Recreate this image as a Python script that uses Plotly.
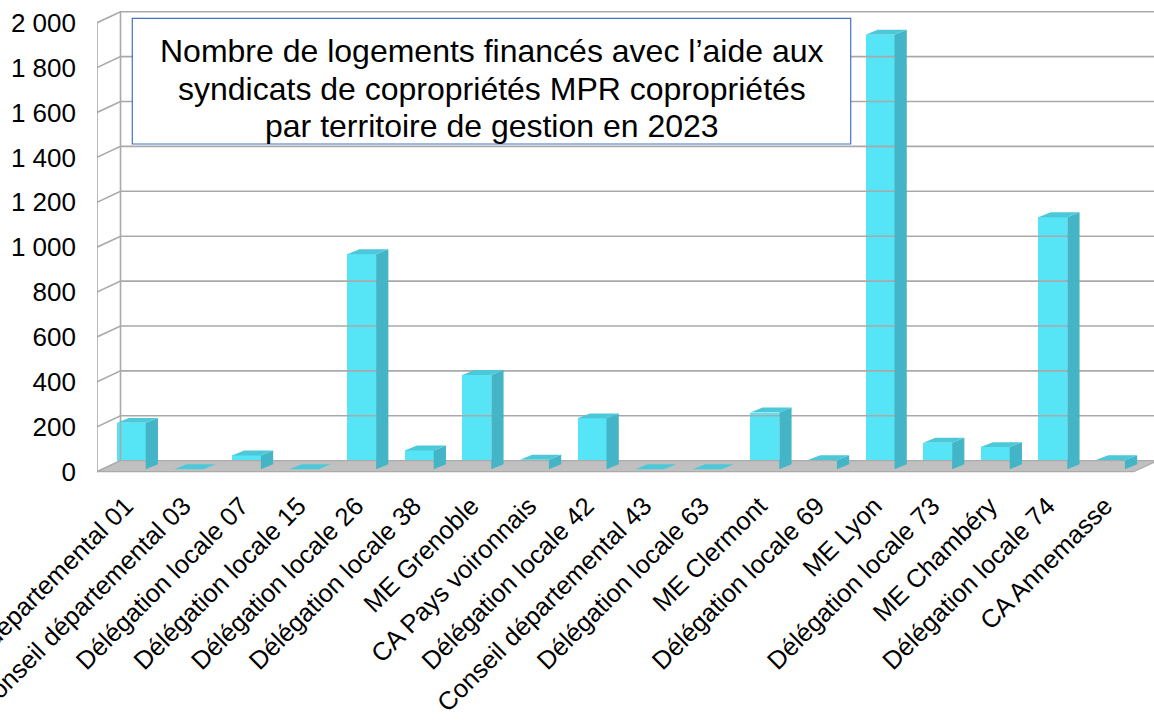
import plotly.graph_objects as go

# ---------------- data ----------------
categories = [
    "Conseil départemental 01", "Conseil départemental 03", "Délégation locale 07",
    "Délégation locale 15", "Délégation locale 26", "Délégation locale 38",
    "ME Grenoble", "CA Pays voironnais", "Délégation locale 42",
    "Conseil départemental 43", "Délégation locale 63", "ME Clermont",
    "Délégation locale 69", "ME Lyon", "Délégation locale 73", "ME Chambéry",
    "Délégation locale 74", "CA Annemasse",
]
values = [207, 0, 62, 0, 958, 84, 420, 43, 227, 0, 0, 253, 41, 1936, 118, 99, 1123, 41]
y_tickvals = [0, 200, 400, 600, 800, 1000, 1200, 1400, 1600, 1800, 2000]
y_ticktext = ["0", "200", "400", "600", "800", "1 000", "1 200", "1 400", "1 600", "1 800", "2 000"]
title_lines = [
    "Nombre de logements financés avec l’aide aux",
    "syndicats de copropriétés MPR copropriétés",
    "par territoire de gestion en 2023",
]

# ---------------- 3D look (oblique projection in axis units) ----------------
WALL_DX, WALL_DY = 0.408, 49.0      # depth of the floor / walls
BAR_FX, BAR_FY = 0.094, 10.7        # front face of bars sits a bit behind the front edge
BAR_SX, BAR_SY = 0.213, 22.0        # depth of a bar
BAR_W = 0.503

FRONT = "#55E5F7"
SIDE = "#43B5C6"
TOP = "#4CC8D9"
GRID = "#A9A9A9"
FONT = "Liberation Sans, Arial, sans-serif"

n = len(categories)
idx = list(range(n))
x_left = -0.5
x_right = n - 0.5
x_max = x_left + 1057 / 57.6

fig = go.Figure()

# walls: diagonal lines on left wall + horizontal grid on back wall
wx, wy = [], []
for v in y_tickvals:
    wx += [x_left, x_left + WALL_DX, x_right + WALL_DX, None]
    wy += [v, v + WALL_DY, v + WALL_DY, None]
wx += [x_left, x_left, None, x_left + WALL_DX, x_left + WALL_DX, None]
wy += [0, y_tickvals[-1], None, WALL_DY, y_tickvals[-1] + WALL_DY, None]
fig.add_trace(go.Scatter(x=wx, y=wy, mode="lines", line=dict(color=GRID, width=1.6),
                         hoverinfo="skip", showlegend=False))

# floor
fig.add_trace(go.Scatter(
    x=[x_left, x_left + WALL_DX, x_right + WALL_DX, x_right, x_left],
    y=[0, WALL_DY, WALL_DY, 0, 0],
    mode="lines", fill="toself", fillcolor="#C0C0C0",
    line=dict(color="#ABABAB", width=1.2), hoverinfo="skip", showlegend=False))

# bars: front faces
fig.add_trace(go.Bar(
    x=[i + BAR_FX for i in idx], y=values, base=BAR_FY, width=BAR_W,
    marker=dict(color=FRONT, line=dict(width=0)), showlegend=False,
    hovertext=categories, hoverinfo="text+y"))

# side and top faces
sx, sy, tx, ty = [], [], [], []
for i, v in zip(idx, values):
    xl = i + BAR_FX - BAR_W / 2
    xr = xl + BAR_W
    b = BAR_FY
    if v > 0:
        sx += [xr, xr + BAR_SX, xr + BAR_SX, xr, xr, None]
        sy += [b, b + BAR_SY, b + v + BAR_SY, b + v, b, None]
    tx += [xl, xr, xr + BAR_SX, xl + BAR_SX, xl, None]
    ty += [b + v, b + v, b + v + BAR_SY, b + v + BAR_SY, b + v, None]
fig.add_trace(go.Scatter(x=sx, y=sy, mode="lines", fill="toself", fillcolor=SIDE,
                         line=dict(width=0, color=SIDE), hoverinfo="skip", showlegend=False))
fig.add_trace(go.Scatter(x=tx, y=ty, mode="lines", fill="toself", fillcolor=TOP,
                         line=dict(width=0, color=TOP), hoverinfo="skip", showlegend=False))

# title box
L, T, W_PLOT, H_PLOT = 97, 5, 1057, 469
def px_x(p):
    return (p - L) / W_PLOT
def px_y(p):
    return (T + H_PLOT - p) / H_PLOT

fig.add_shape(type="rect", xref="paper", yref="paper",
              x0=px_x(132.3), x1=px_x(850.7), y0=px_y(144), y1=px_y(18.3),
              line=dict(color="#4472C4", width=1.2), fillcolor="white", layer="above")
for k, line in enumerate(title_lines):
    fig.add_annotation(text=line, xref="paper", yref="paper",
                       x=px_x(491.5), y=px_y(51 + k * 37.5), xanchor="center", yanchor="middle",
                       showarrow=False, font=dict(family=FONT, size=32, color="black"))

fig.update_layout(
    width=1154, height=721,
    margin=dict(l=L, r=1154 - L - W_PLOT, t=T, b=721 - T - H_PLOT, autoexpand=False),
    paper_bgcolor="white", plot_bgcolor="white",
    font=dict(family=FONT, color="black"),
    bargap=0,
    xaxis=dict(range=[x_left, x_max], tickvals=idx,
               ticktext=categories, tickangle=-45,
               showgrid=False, zeroline=False, showline=False, ticks="",
               ticklabelstandoff=11, ticklabeloverflow="allow",
               tickfont=dict(size=25.5, color="black"), automargin=False, fixedrange=True),
    yaxis=dict(range=[-(474 - 471.7) / 0.2245, (471.7 - 5) / 0.2245],
               tickvals=y_tickvals, ticktext=y_ticktext,
               showgrid=False, zeroline=False, showline=False, ticks="",
               ticklabelstandoff=20, ticklabeloverflow="allow",
               tickfont=dict(size=26, color="black"), automargin=False, fixedrange=True),
)

fig.write_html("out.html", config={"displayModeBar": False},
               post_script="document.body.style.margin='0';document.body.style.overflow='hidden';")
